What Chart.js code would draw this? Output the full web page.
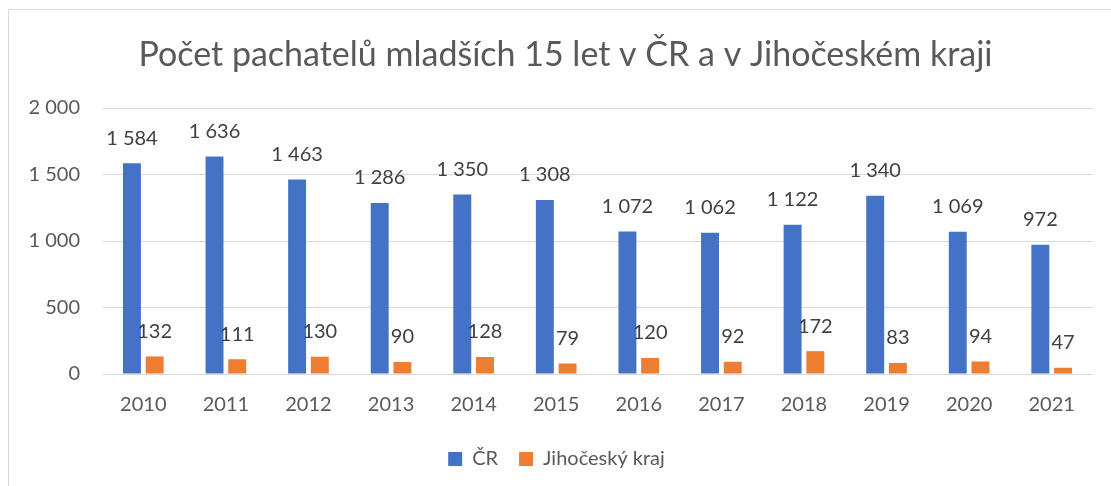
<!DOCTYPE html>
<html lang="cs">
<head>
  <meta charset="UTF-8">
  <title>Počet pachatelů mladších 15 let</title>
  <style>
    body { margin: 0; background: #fff; overflow: hidden; }
    #frame { position: absolute; left: 8px; top: 9px; width: 1200px; height: 600px; border: 1px solid #d9d9d9; }
    #wrap { position: absolute; left: 0; top: 0; width: 1111px; height: 486px; }
  </style>
</head>
<body>
  <div id="frame"></div>
  <div id="wrap"><canvas id="chart"></canvas></div>
  <script src="https://cdn.jsdelivr.net/npm/chart.js"></script>
  <script>
    const years = ['2010', '2011', '2012', '2013', '2014', '2015', '2016', '2017', '2018', '2019', '2020', '2021'];
    const cr = [1584, 1636, 1463, 1286, 1350, 1308, 1072, 1062, 1122, 1340, 1069, 972];
    const jihocesky = [132, 111, 130, 90, 128, 79, 120, 92, 172, 83, 94, 47];
    const yTicks = [0, 500, 1000, 1500, 2000];
    const titleText = 'Počet pachatelů mladších 15 let v ČR a v Jihočeském kraji';

    const font = 'Lato';
    function fmt(v) {
      return String(v).replace(/\B(?=(\d{3})+(?!\d))/g, ' ');
    }

    // popisky hodnot nad sloupci + nadpis (vycentrovaný na rámeček grafu)
    const valueLabels = {
      id: 'valueLabels',
      afterDatasetsDraw(chart) {
        const ctx = chart.ctx;
        ctx.save();
        ctx.font = '20px ' + font;
        ctx.fillStyle = '#404040';
        ctx.textAlign = 'center';
        ctx.textBaseline = 'middle';
        chart.data.datasets.forEach((ds, i) => {
          chart.getDatasetMeta(i).data.forEach((bar, j) => {
            ctx.fillText(fmt(ds.data[j]), bar.x, bar.y - 25);
          });
        });
        ctx.font = '34px ' + font;
        ctx.fillStyle = '#595959';
        ctx.fillText(titleText, chart.width / 2 + 10, 55);
        ctx.restore();
      }
    };

    new Chart(document.getElementById('chart'), {
      type: 'bar',
      data: {
        labels: years,
        datasets: [
          { label: 'ČR', data: cr, backgroundColor: '#4472c4' },
          { label: 'Jihočeský kraj', data: jihocesky, backgroundColor: '#ed7d31' }
        ]
      },
      options: {
        responsive: true,
        maintainAspectRatio: false,
        animation: false,
        categoryPercentage: 0.55,
        barPercentage: 0.79,
        layout: { padding: { left: 20, right: 18, top: 108, bottom: 7 } },
        plugins: {
          title: { display: false },
          legend: {
            position: 'bottom',
            labels: {
              color: '#595959',
              font: { family: font, size: 20 },
              boxWidth: 14,
              boxHeight: 14,
              padding: 21
            }
          },
          tooltip: { enabled: false }
        },
        scales: {
          x: {
            grid: { display: false },
            border: { display: false },
            ticks: { color: '#595959', font: { family: font, size: 20 }, padding: 11 }
          },
          y: {
            min: 0,
            max: 2000,
            afterBuildTicks: s => { s.ticks = yTicks.map(v => ({ value: v })); },
            afterFit: s => { s.width = 82; },
            grid: { color: '#d9d9d9', drawTicks: false },
            border: { display: false },
            ticks: {
              color: '#595959',
              font: { family: font, size: 20 },
              padding: 22,
              callback: v => fmt(v)
            }
          }
        }
      },
      plugins: [valueLabels]
    });
  </script>
</body>
</html>
